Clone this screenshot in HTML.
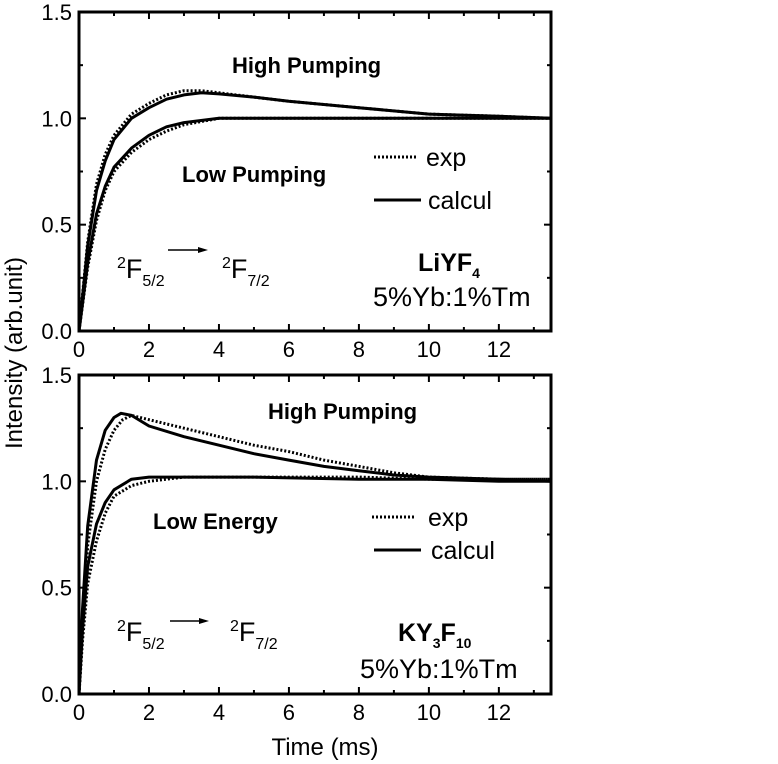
<!DOCTYPE html>
<html><head><meta charset="utf-8"><style>
body{margin:0;background:#fff}
svg{display:block;font-family:"Liberation Sans",Arial,sans-serif}
</style></head><body>
<svg id="chart" width="778" height="764" viewBox="0 0 778 764"></svg>
<script>
const ticksX=[0,2,4,6,8,10,12];
const ticksY=[0.0,0.5,1.0,1.5];
// top panel LiYF4
const tTopHighCalc=[0,0.25,0.5,0.75,1,1.5,2,2.5,3,3.5,4,5,6,8,10,12,13.5];
const vTopHighCalc=[0,0.4,0.66,0.8,0.9,1.0,1.05,1.09,1.11,1.12,1.115,1.1,1.08,1.05,1.02,1.01,1.0];
const tTopHighExp=[0,0.25,0.5,0.75,1,1.5,2,2.5,3,3.5,4,5,6,8,10,12,13.5];
const vTopHighExp=[0,0.42,0.69,0.83,0.92,1.02,1.07,1.11,1.13,1.13,1.12,1.1,1.08,1.05,1.02,1.01,1.0];
const tTopLowCalc=[0,0.25,0.5,0.75,1,1.5,2,2.5,3,4,5,6,8,10,12,13.5];
const vTopLowCalc=[0,0.32,0.55,0.68,0.77,0.86,0.92,0.96,0.98,1.0,1.0,1.0,1.0,1.0,1.0,1.0];
const tTopLowExp=[0,0.25,0.5,0.75,1,1.5,2,2.5,3,4,5,6,8,10,12,13.5];
const vTopLowExp=[0,0.3,0.52,0.66,0.75,0.84,0.9,0.94,0.97,1.0,1.0,1.0,1.0,1.0,1.0,1.0];
// bottom panel KY3F10
const tBotHighCalc=[0,0.1,0.25,0.5,0.75,1,1.2,1.5,2,3,4,5,6,7,8,9,10,12,13.5];
const vBotHighCalc=[0,0.4,0.79,1.1,1.24,1.3,1.32,1.31,1.26,1.21,1.17,1.13,1.1,1.07,1.05,1.03,1.02,1.01,1.0];
const tBotHighExp=[0,0.1,0.25,0.5,0.75,1,1.25,1.5,2,3,4,5,6,7,8,9,10,12,13.5];
const vBotHighExp=[0,0.3,0.7,1.0,1.15,1.24,1.29,1.31,1.29,1.25,1.21,1.17,1.14,1.1,1.07,1.04,1.02,1.01,1.01];
const tBotLowCalc=[0,0.1,0.25,0.5,0.75,1,1.5,2,3,5,8,10,12,13.5];
const vBotLowCalc=[0,0.3,0.6,0.8,0.9,0.96,1.01,1.02,1.02,1.02,1.01,1.01,1.0,1.0];
const tBotLowExp=[0,0.1,0.25,0.5,0.75,1,1.5,2,3,5,8,10,12,13.5];
const vBotLowExp=[0,0.25,0.52,0.72,0.85,0.93,0.98,1.0,1.02,1.02,1.02,1.01,1.01,1.01];

const NS="http://www.w3.org/2000/svg";
const svg=document.getElementById('chart');
const X0=79,X1=551,XMAX=13.49;
function xs(t){return X0+(X1-X0)*t/XMAX;}
function mk(tag,attrs,parent){const e=document.createElementNS(NS,tag);for(const k in attrs)e.setAttribute(k,attrs[k]);(parent||svg).appendChild(e);return e;}

function panel(name,top,bottom,series){
  const g=mk('g',{});
  
  
  const ys=v=>bottom-(bottom-top)*v/1.5;
  for(let t=1;t<=13;t++){
    const maj=t%2===0, L=maj?7:4;
    const a=mk('line',{x1:xs(t),x2:xs(t),y1:bottom,y2:bottom-L,stroke:'#000','stroke-width':2},g);
    
    
    const b=mk('line',{x1:xs(t),x2:xs(t),y1:top,y2:top+L,stroke:'#000','stroke-width':2},g);
    
    
  }
  for(let i=1;i<6;i++){
    const v=i*0.25, maj=i%2===0, L=maj?7:4;
    const a=mk('line',{x1:X0,x2:X0+L,y1:ys(v),y2:ys(v),stroke:'#000','stroke-width':2},g);
    
    
    const b=mk('line',{x1:X1,x2:X1-L,y1:ys(v),y2:ys(v),stroke:'#000','stroke-width':2},g);
    
    
  }
  ticksX.forEach(t=>{
    const e=mk('text',{x:xs(t),y:bottom+26,'font-size':22,'text-anchor':'middle'},g);
    e.textContent=String(t);
    
    
  });
  ticksY.forEach(v=>{
    const e=mk('text',{x:72,y:ys(v)+8,'font-size':22,'text-anchor':'end'},g);
    e.textContent=v.toFixed(1);
    
    
  });
  series.forEach(s=>{
    const d=s.t.map((t,i)=>(i?'L':'M')+xs(t).toFixed(1)+','+ys(s.v[i]).toFixed(1)).join('');
    const p=mk('path',{d:d,fill:'none',stroke:'#000','stroke-width':3,'stroke-linejoin':'round'},g);
    if(s.dash)p.setAttribute('stroke-dasharray','2 2');
    
    
  });
  const r=mk('rect',{x:X0,y:top,width:X1-X0,height:bottom-top,fill:'none',stroke:'#000','stroke-width':3},g);
  
  
  return ys;
}
panel('top-panel',12,331,[
  {t:tTopHighExp,v:vTopHighExp,dash:true,name:'high-pumping-exp'},
  {t:tTopHighCalc,v:vTopHighCalc,dash:false,name:'high-pumping-calc'},
  {t:tTopLowExp,v:vTopLowExp,dash:true,name:'low-pumping-exp'},
  {t:tTopLowCalc,v:vTopLowCalc,dash:false,name:'low-pumping-calc'}]);
panel('bottom-panel',375,694,[
  {t:tBotHighExp,v:vBotHighExp,dash:true,name:'high-pumping-exp'},
  {t:tBotHighCalc,v:vBotHighCalc,dash:false,name:'high-pumping-calc'},
  {t:tBotLowExp,v:vBotLowExp,dash:true,name:'low-energy-exp'},
  {t:tBotLowCalc,v:vBotLowCalc,dash:false,name:'low-energy-calc'}]);
</script>
<svg width="778" height="764" style="position:absolute;left:0;top:0">
<g font-family="Liberation Sans, Arial, sans-serif">
<text x="14" y="353" font-size="24" text-anchor="middle" transform="rotate(-90 14 353)" dy="8">Intensity (arb.unit)</text>
<text x="325" y="755" font-size="24" text-anchor="middle">Time (ms)</text>
<!-- top -->
<text x="232" y="73" font-size="22" font-weight="bold">High Pumping</text>
<text x="182" y="182" font-size="22" font-weight="bold">Low Pumping</text>
<line x1="374" y1="157" x2="416" y2="157" stroke="#000" stroke-width="3" stroke-dasharray="2 2"/>
<text x="426" y="166" font-size="25">exp</text>
<line x1="374" y1="200" x2="421" y2="200" stroke="#000" stroke-width="3"/>
<text x="428" y="209" font-size="25">calcul</text>
<text x="418" y="271" font-size="25" font-weight="bold">LiYF<tspan font-size="14" dy="7">4</tspan></text>
<text x="373" y="306" font-size="27">5%Yb:1%Tm</text>
<text x="117" y="278" font-size="27"><tspan font-size="16" dy="-10">2</tspan><tspan dy="10">F</tspan><tspan font-size="16" dy="8">5/2</tspan></text>
<line x1="168" y1="250" x2="200" y2="250" stroke="#000" stroke-width="1.5"/>
<polygon points="208,250 198,247 198,253" fill="#000"/>
<text x="222" y="278" font-size="27"><tspan font-size="16" dy="-10">2</tspan><tspan dy="10">F</tspan><tspan font-size="16" dy="8">7/2</tspan></text>
<!-- bottom -->
<text x="268" y="419" font-size="22" font-weight="bold">High Pumping</text>
<text x="153" y="529" font-size="22" font-weight="bold">Low Energy</text>
<line x1="372" y1="517" x2="414" y2="517" stroke="#000" stroke-width="3" stroke-dasharray="2 2"/>
<text x="428" y="526" font-size="25">exp</text>
<line x1="374" y1="550" x2="421" y2="550" stroke="#000" stroke-width="3"/>
<text x="431" y="559" font-size="25">calcul</text>
<text x="398" y="641" font-size="25" font-weight="bold">KY<tspan font-size="14" dy="7">3</tspan><tspan dy="-7">F</tspan><tspan font-size="14" dy="7">10</tspan></text>
<text x="360" y="678" font-size="27">5%Yb:1%Tm</text>
<text x="117" y="641" font-size="27"><tspan font-size="16" dy="-10">2</tspan><tspan dy="10">F</tspan><tspan font-size="16" dy="8">5/2</tspan></text>
<line x1="170" y1="621" x2="200" y2="621" stroke="#000" stroke-width="1.5"/>
<polygon points="209,621 199,618 199,624" fill="#000"/>
<text x="230" y="641" font-size="27"><tspan font-size="16" dy="-10">2</tspan><tspan dy="10">F</tspan><tspan font-size="16" dy="8">7/2</tspan></text>
</g>
</svg>
</body></html>
